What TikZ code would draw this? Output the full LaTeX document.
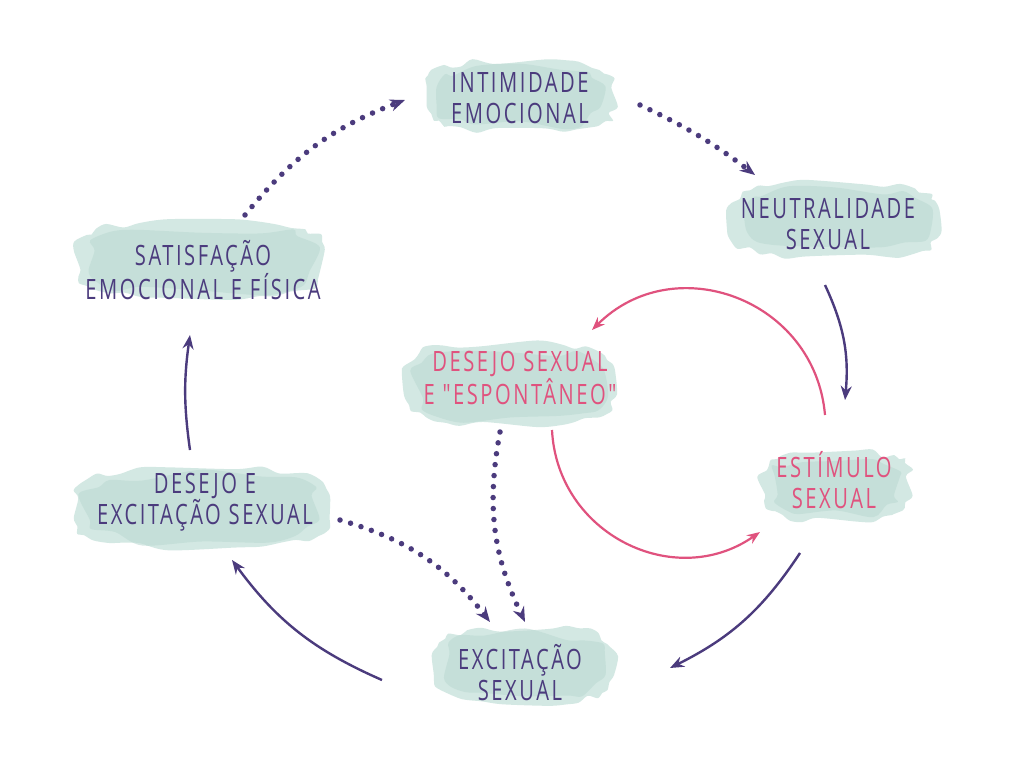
\documentclass[tikz,border=0pt]{standalone}
\usepackage{fontspec}
\newfontfamily\hand{Open Sans}[LetterSpace=9,FakeStretch=0.72]
\usetikzlibrary{arrows.meta}
\definecolor{vio}{HTML}{4B3B7D}
\definecolor{pnk}{HTML}{E0527E}
\definecolor{blobA}{HTML}{D3E8E3}
\definecolor{blobB}{HTML}{BCDAD3}
\newcommand{\myblob}[4]{%
  \fill[blobA] plot[smooth cycle, domain=0:350, samples=36, variable=\x]
    ({#1+(#3/2+10*rnd-5)*sign(cos(\x+5))*abs(cos(\x+5))^0.55},
     {#2+(#4/2+8*rnd-4)*sign(sin(\x+5))*abs(sin(\x+5))^0.55});
  \fill[blobB,opacity=0.6] plot[smooth cycle, domain=0:340, samples=18, variable=\x]
    ({#1+(#3/2-10+16*rnd-8)*sign(cos(\x+10))*abs(cos(\x+10))^0.6},
     {#2+(#4/2-6+12*rnd-6)*sign(sin(\x+10))*abs(sin(\x+10))^0.6});
}
\tikzset{
  lbl/.style={align=center, inner sep=0pt, text=vio, font=\hand\fontsize{28}{31}\selectfont},
  plbl/.style={lbl, text=pnk},
  solidarr/.style={draw=vio, line width=2.4pt, -{Stealth[length=14pt,width=11pt]}},
  dotarr/.style={draw=vio, line width=5.5pt, line cap=round, dash pattern=on 0pt off 11pt,
    -{Stealth[length=15pt,width=12pt]}},
  pinkarr/.style={draw=pnk, line width=2.2pt, -{Stealth[length=13pt,width=10pt]}},
}
\begin{document}
\begin{tikzpicture}[x=1pt,y=1pt]
\pgfmathsetseed{7}
\useasboundingbox[fill=white] (0,0) rectangle (1024,772);
% blobs
\myblob{520}{675}{190}{70}
\myblob{835}{552}{210}{74}
\myblob{200}{512}{247}{76}
\myblob{510}{388}{210}{82}
\myblob{836}{286}{148}{68}
\myblob{202}{264}{255}{78}
\myblob{525}{107}{180}{74}
% labels
\node[lbl]  (intim)  at (520,674) {INTIMIDADE\\EMOCIONAL};
\node[lbl]  (neutr)  at (828,548) {NEUTRALIDADE\\SEXUAL};
\node[lbl]  (satis)  at (203,502) {SATISFAÇÃO\\EMOCIONAL E FÍSICA};
\node[plbl] (desesp) at (520,394) {DESEJO SEXUAL\\E "ESPONTÂNEO"};
\node[plbl] (estim)  at (834,292) {ESTÍMULO\\SEXUAL};
\node[lbl]  (desexc) at (205,270) {DESEJO E\\EXCITAÇÃO SEXUAL};
\node[lbl]  (excit)  at (520,99)  {EXCITAÇÃO\\SEXUAL};
% outer cycle
\draw[dotarr] ([shift={(42,55)}]satis.center) to[bend left=15] ([shift={(-115,-2)}]intim.center);
\draw[dotarr] ([shift={(120,-7)}]intim.center) to[bend left=6] ([shift={(-73,49)}]neutr.center);
\draw[solidarr] ([shift={(-3,-61)}]neutr.center) to[bend left=15] ([shift={(11,80)}]estim.center);
\draw[solidarr] ([shift={(-34,-73)}]estim.center) to[bend left=15] ([shift={(150,5)}]excit.center);
\draw[solidarr] ([shift={(-138,-7)}]excit.center) to[bend left=15] ([shift={(27,-58)}]desexc.center);
\draw[solidarr] ([shift={(-15,52)}]desexc.center) to[bend left=8] ([shift={(-13,-65)}]satis.center);
% inner dotted
\draw[dotarr] ([shift={(135,-18)}]desexc.center) to[bend left=18] ([shift={(-30,51)}]excit.center);
\draw[dotarr] ([shift={(-20,-54)}]desesp.center) to[bend right=18] ([shift={(5,51)}]excit.center);
% pink loop
\draw[pinkarr] ([shift={(-9,65)}]estim.center) to[bend right=65, looseness=1.2] ([shift={(72,48)}]desesp.center);
\draw[pinkarr] ([shift={(32,-52)}]desesp.center) to[bend right=61, looseness=1.15] ([shift={(-74,-52)}]estim.center);
\end{tikzpicture}
\end{document}
